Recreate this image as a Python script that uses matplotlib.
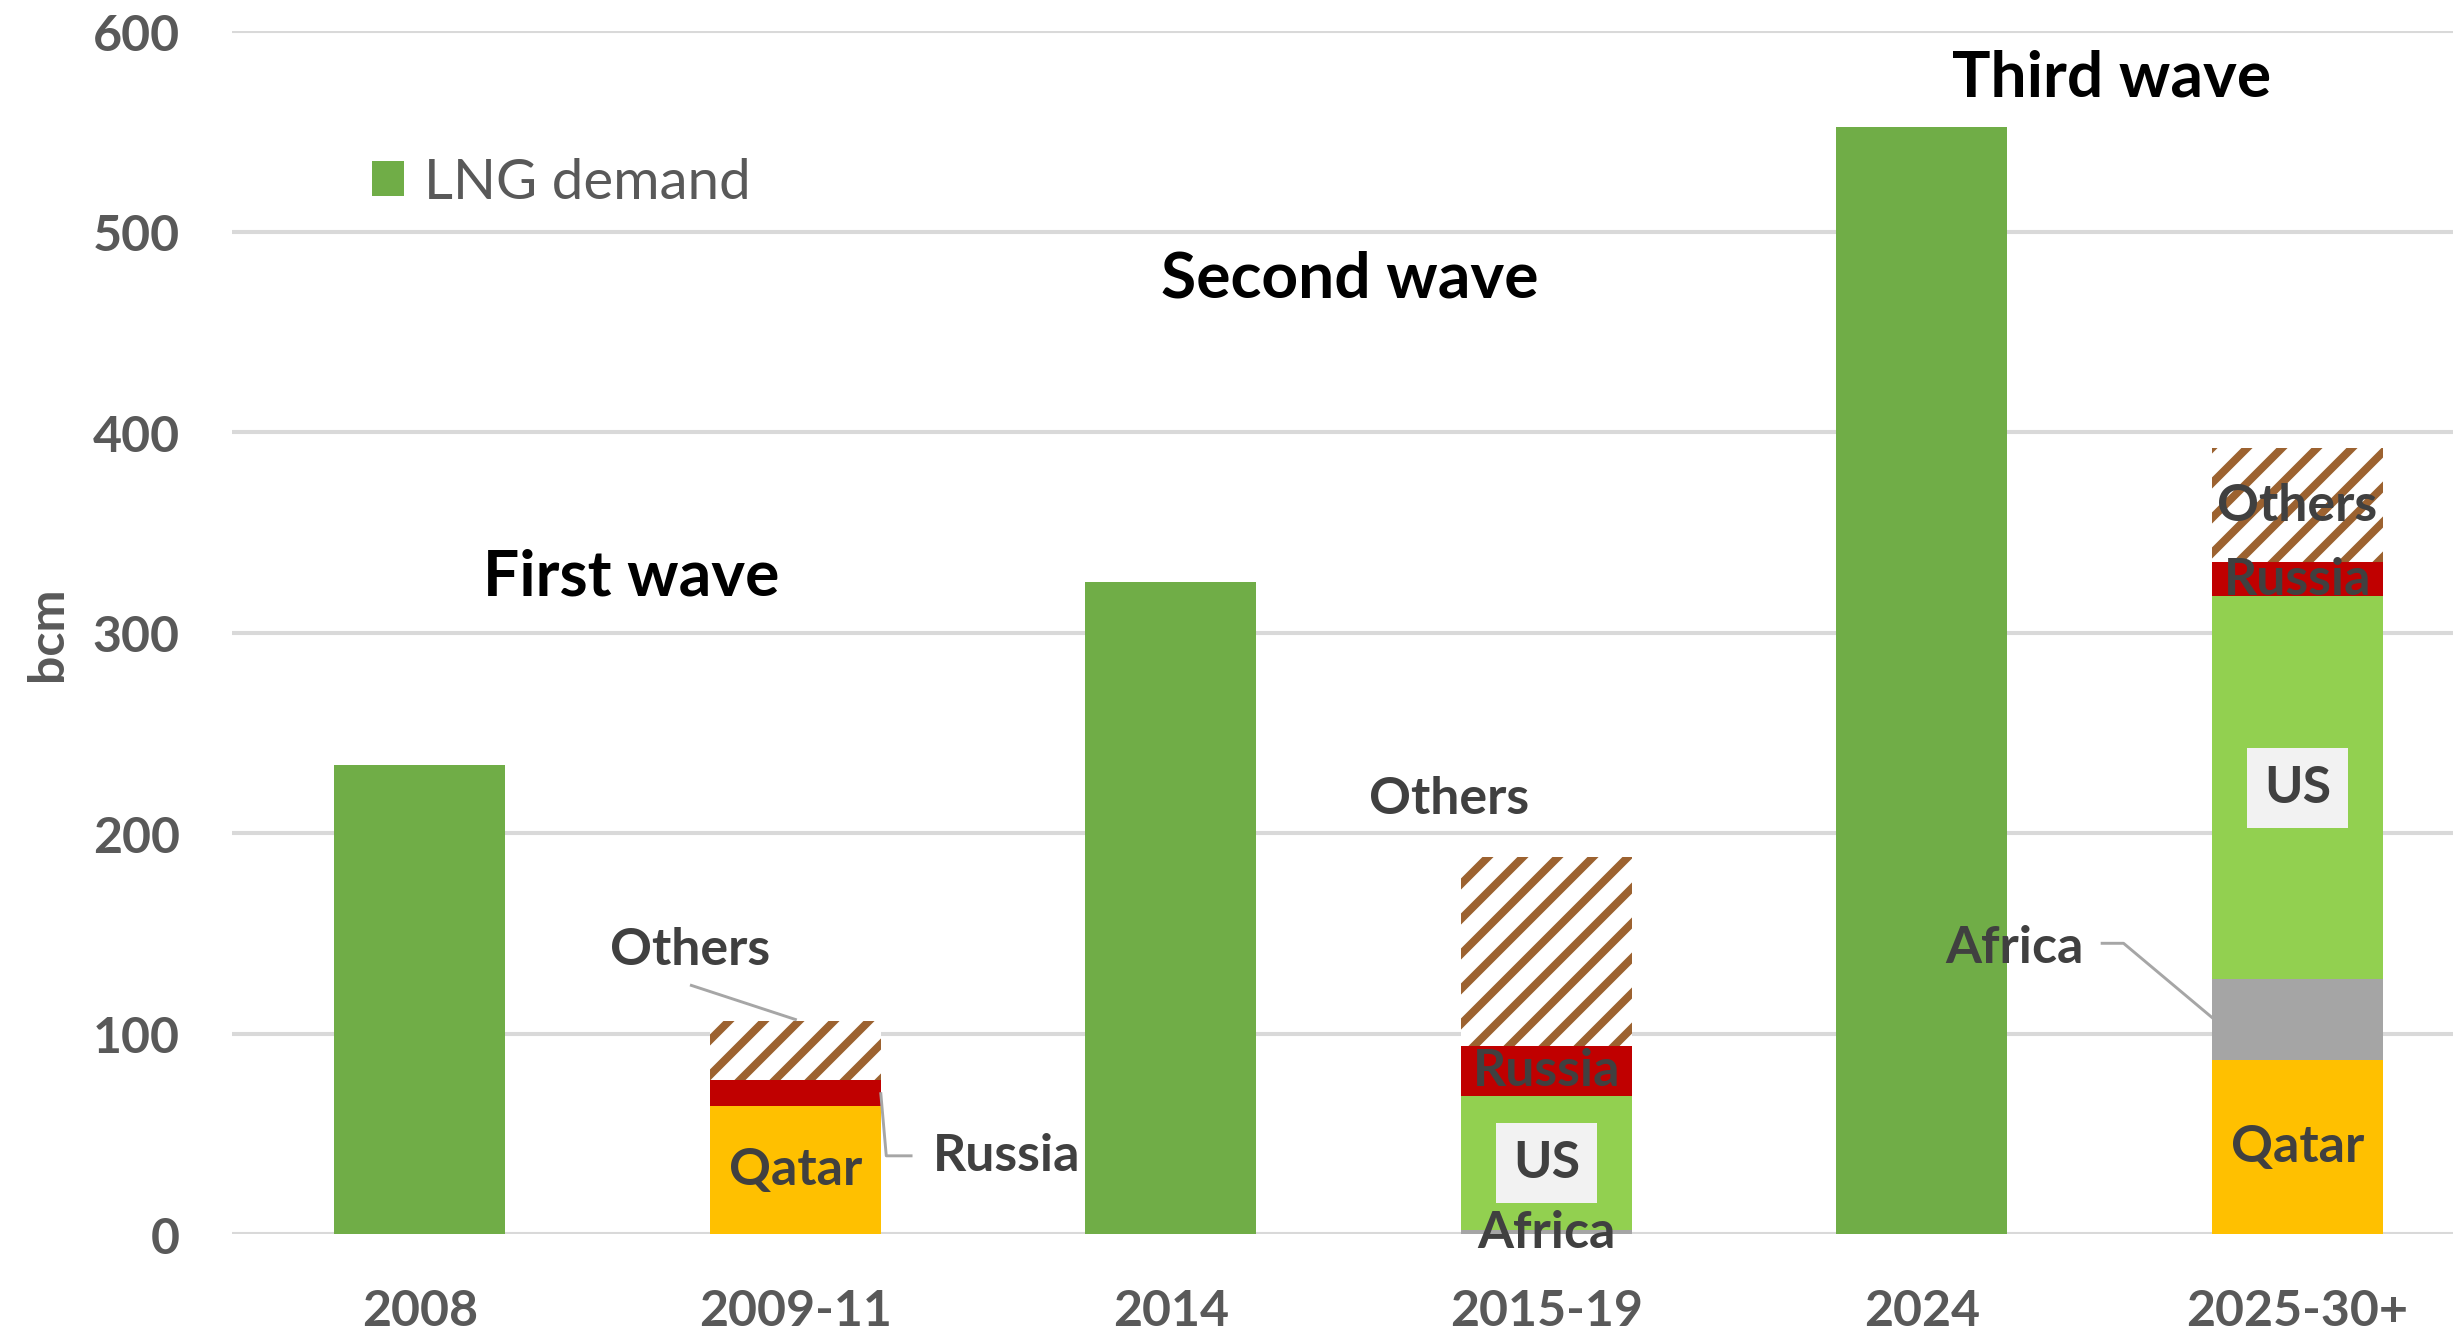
import numpy as np
import matplotlib
matplotlib.use('Agg')
import matplotlib.pyplot as plt

plt.rcParams['font.family'] = ['Lato', 'DejaVu Sans']
plt.rcParams['hatch.linewidth'] = 2.7

# Data (bcm)
categories = ['2008', '2009-11', '2014', '2015-19', '2024', '2025-30+']
demand_cats = ['2008', '2014', '2024']
lng_demand = [234, 325, 552]
supply_cats = ['2009-11', '2015-19', '2025-30+']
qatar = [64, 0, 87]
africa = [0, 2, 40]
us = [0, 67, 191]
russia = [13, 25, 17]
others = [29, 94, 57]

grey_txt = '#595959'
lab_txt = '#404040'
hatch_col = '#9C6230'

DPI = 210
fig = plt.figure(figsize=(2453.99 / DPI, 1333.99 / DPI), dpi=DPI)
ax = fig.add_axes([0.0946, 0.0742, 0.9054, 0.9018])

x = np.arange(len(categories))
xd = np.array([categories.index(c) for c in demand_cats])
xs = np.array([categories.index(c) for c in supply_cats])
w = 0.455

ax.bar(xd, lng_demand, w, color='#70AD47', label='LNG demand', zorder=2)

# stacked supply waves
segs = [('Qatar', qatar, dict(color='#FFC000')),
        ('Africa', africa, dict(color='#A5A5A5')),
        ('US', us, dict(color='#92D050')),
        ('Russia', russia, dict(color='#C00000')),
        ('Others', others, dict(color='white', edgecolor=hatch_col, hatch='//', linewidth=0))]
bottom = np.zeros(len(supply_cats))
mids = {}
for name, vals, style in segs:
    vals = np.array(vals, dtype=float)
    ax.bar(xs, vals, w, bottom=bottom, zorder=2, **style)
    mids[name] = bottom + vals / 2
    bottom = bottom + vals
tops = bottom

ax.set_xlim(-0.5, 5.417)
ax.set_ylim(0, 600)
ax.set_yticks(np.arange(0, 601, 100))
ax.set_xticks(x)
ax.set_xticklabels(categories)
ax.yaxis.grid(True, color='#D9D9D9', lw=1.4)
ax.set_axisbelow(True)
for s in ax.spines.values():
    s.set_visible(False)
ax.tick_params(axis='both', length=0, labelsize=17.2, labelcolor=grey_txt)
ax.tick_params(axis='y', pad=18)
ax.tick_params(axis='x', pad=18.5)
for t in ax.get_xticklabels() + ax.get_yticklabels():
    t.set_fontweight('bold')
ax.set_ylabel('bcm', fontsize=17.2, fontweight='bold', color=grey_txt)
ax.yaxis.set_label_coords(-0.0732, 0.5)

ax.legend(loc='center left', bbox_to_anchor=(0.0628, 0.874), frameon=False,
          handlelength=0.58, handleheight=0.58, handletextpad=0.35,
          fontsize=19.4, labelcolor=grey_txt, borderpad=0, borderaxespad=0)

# wave titles
wave_txt = ['First wave', 'Second wave', 'Third wave']
wave_pos = [(0.5625, 328), (2.475, 477), (4.504, 577)]
for t, (px, py) in zip(wave_txt, wave_pos):
    ax.text(px, py, t, fontsize=22, fontweight='bold', color='black',
            ha='center', va='center')

lab = dict(fontsize=17.8, fontweight='bold', color=lab_txt, ha='center', va='center', zorder=4)
us_box = dict(boxstyle='square,pad=0.32', fc='#F2F2F2', ec='none')
lead = dict(color='#A6A6A6', lw=1.0, zorder=3)

# 2009-11
i0 = xs[0]
ax.text(i0, mids['Qatar'][0], 'Qatar', **lab)
ax.text(i0 - 0.28, tops[0] + 36, 'Others', **lab)
ax.plot([i0 - 0.277, i0], [tops[0] + 18, tops[0] + 1], **lead)
ax.plot([i0 + w / 2, i0 + 0.242, i0 + 0.308], [qatar[0] + 6, 39, 39], **lead)
ax.text(i0 + 0.367, 39, 'Russia', **{**lab, 'ha': 'left'})

# 2015-19
i1 = xs[1]
ax.text(i1 - 0.26, tops[1] + 29, 'Others', **lab)
ax.text(i1, mids['Russia'][1], 'Russia', **lab)
ax.text(i1, mids['US'][1], 'US', bbox=us_box, **lab)
ax.text(i1, mids['Africa'][1], 'Africa', **lab)

# 2025-30+
i2 = xs[2]
ax.text(i2, mids['Others'][2], 'Others', **lab)
ax.text(i2, mids['Russia'][2], 'Russia', **lab)
ax.text(i2, mids['US'][2], 'US', bbox=us_box, **lab)
ax.text(i2, mids['Qatar'][2], 'Qatar', **lab)
ax.text(i2 - 0.57, mids['Africa'][2] + 36, 'Africa', **{**lab, 'ha': 'right'})
ax.plot([i2 - 0.52, i2 - 0.463, i2 - w / 2], [mids['Africa'][2] + 38, mids['Africa'][2] + 38, mids['Africa'][2] + 1], **lead)

fig.savefig('out.png', dpi=DPI)
